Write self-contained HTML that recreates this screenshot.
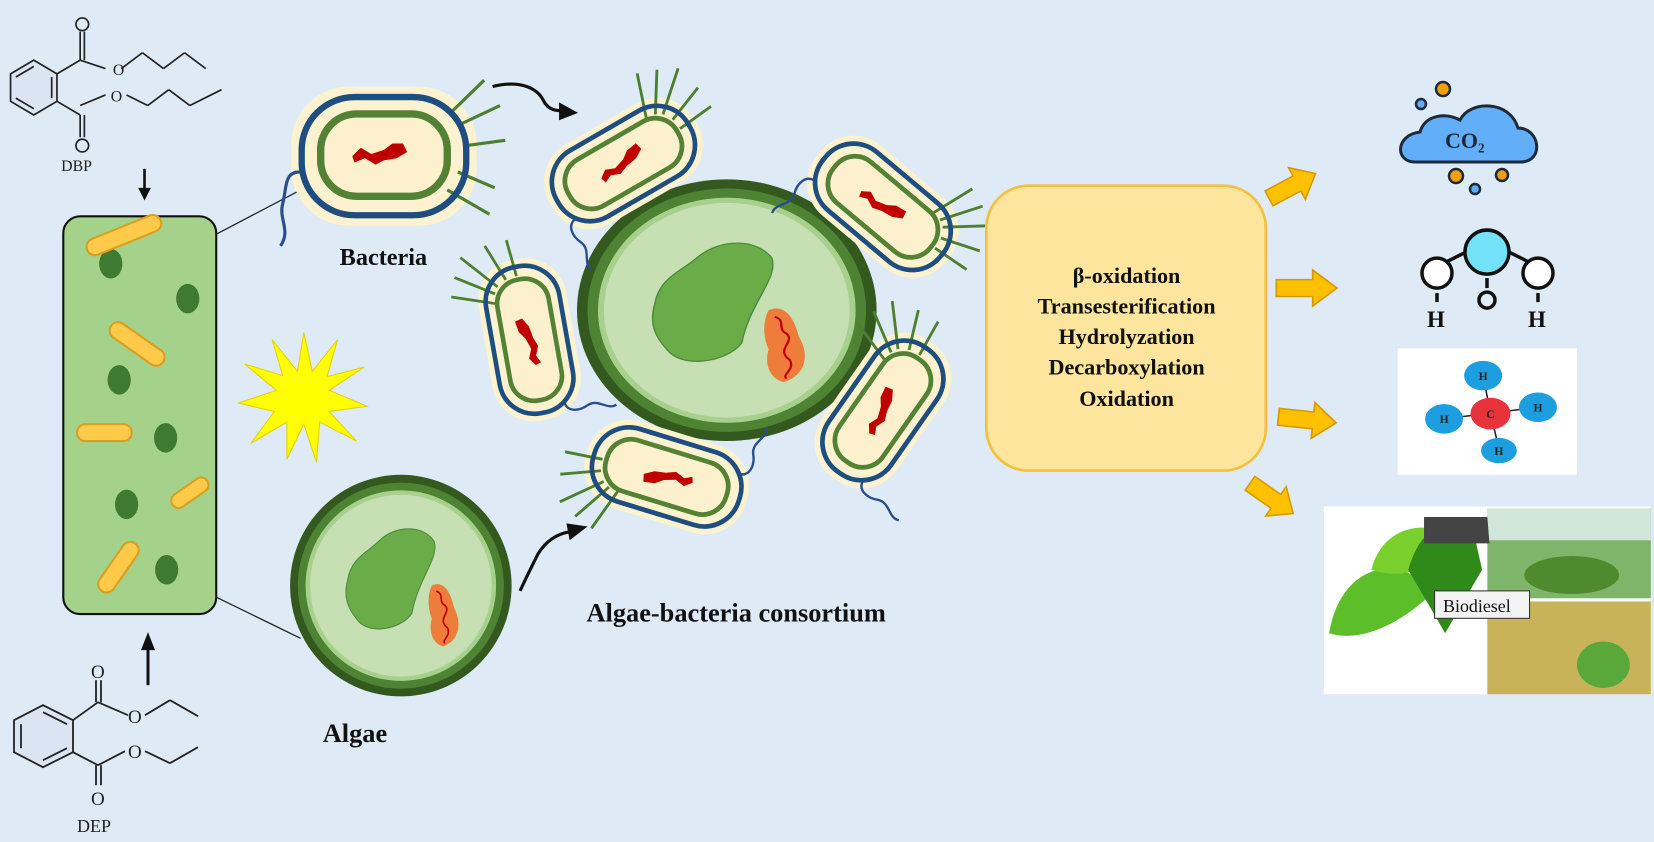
<!DOCTYPE html>
<html><head><meta charset="utf-8"><style>
html,body{margin:0;padding:0;background:#deeaf6;}
svg{display:block;}
text{font-family:"Liberation Serif",serif;}
</style></head><body>
<svg width="1654" height="842" viewBox="0 0 1568 798" preserveAspectRatio="none" xmlns="http://www.w3.org/2000/svg">
<defs>
<g id="bac">
 <rect x="-88" y="-66" width="176" height="132" rx="55" fill="#fdf2cf"/>
 <path d="M-80 15 C-95 15,-92 30,-96 45 C-100 60,-88 70,-98 85" stroke="#2a4d8f" stroke-width="3" fill="none"/>
 <g stroke="#4d7f30" stroke-width="3">
  <line x1="62" y1="-40" x2="95" y2="-72"/><line x1="72" y1="-30" x2="110" y2="-48"/>
  <line x1="78" y1="-10" x2="115" y2="-15"/><line x1="70" y1="15" x2="105" y2="30"/>
  <line x1="60" y1="32" x2="100" y2="55"/>
 </g>
 <rect x="-78" y="-56" width="156" height="112" rx="50" fill="none" stroke="#1e4e80" stroke-width="6"/>
 <rect x="-60" y="-40" width="120" height="78" rx="34" fill="#fdf0cd" stroke="#548235" stroke-width="7"/>
 <path d="M-30 0 L-22 -8 L-12 -2 L0 -6 L8 -12 L18 -12 L22 -4 L12 2 L0 4 L-8 8 L-18 2 L-28 6 Z" fill="#c00000"/>
</g>
<g id="bac2">
 <rect x="-88" y="-48" width="176" height="96" rx="45" fill="#fdf2cf"/>
 <path d="M-70 25 C-85 25,-85 40,-80 50 C-75 62,-90 70,-85 80" stroke="#2a4d8f" stroke-width="2.5" fill="none"/>
 <g stroke="#4d7f30" stroke-width="3">
  <line x1="45" y1="-30" x2="60" y2="-75"/><line x1="55" y1="-28" x2="80" y2="-68"/>
  <line x1="62" y1="-24" x2="100" y2="-58"/><line x1="68" y1="-14" x2="108" y2="-30"/><line x1="70" y1="-2" x2="110" y2="-6"/>
 </g>
 <rect x="-80" y="-40" width="160" height="80" rx="38" fill="none" stroke="#1e4e80" stroke-width="5"/>
 <rect x="-66" y="-28" width="132" height="56" rx="26" fill="#fdf0cd" stroke="#548235" stroke-width="5"/>
 <path d="M-28 2 L-20 -4 L-10 0 L2 -4 L10 -10 L22 -12 L24 -4 L14 2 L2 4 L-8 8 L-18 4 L-26 8 Z" fill="#c00000"/>
</g>
<g id="alg2">
 <circle r="100" fill="#34591f"/>
 <circle r="93" fill="#4e8333"/>
 <circle r="86" fill="#a8d08d"/>
 <circle r="82" fill="#c6e0b4"/>
 <path d="M-48 -5 C-45 -25,-30 -30,-20 -40 C-5 -55,20 -55,30 -40 C35 -25,15 -5,10 25 C0 40,-30 45,-40 30 C-48 20,-52 10,-48 -5Z" fill="#6aad48" stroke="#4e8a3a" stroke-width="1"/>
 <path d="M28 0 C38 -5,45 5,48 20 C56 35,52 50,38 55 C28 52,25 40,28 30 C24 20,24 8,28 0Z" fill="#ee7c3a"/>
 <path d="M32 5 C40 8,33 14,40 18 C46 24,32 30,42 38 C46 45,36 50,40 52" stroke="#c00000" stroke-width="1.5" fill="none"/>
</g>
<g id="arr"><path d="M0 -8 L30 -8 L30 -17 L50 0 L30 17 L30 8 L0 8Z" fill="#ffc000" stroke="#d49a00" stroke-width="1.5"/></g>
</defs>

<!-- DBP -->
<g stroke="#222" stroke-width="1.6" fill="none">
 <polygon points="10,70 32,57 54,70 54,96 32,109 10,96" fill="#dbe4f3"/>
 <line x1="15" y1="73" x2="32" y2="63"/><line x1="49" y1="73" x2="49" y2="93"/><line x1="15" y1="93" x2="32" y2="103"/>
 <line x1="54" y1="70" x2="76" y2="57"/><line x1="76" y1="57" x2="76" y2="30"/><line x1="80" y1="57" x2="80" y2="30"/>
 <line x1="76" y1="57" x2="100" y2="65"/><line x1="115" y1="65" x2="135" y2="50"/><line x1="135" y1="50" x2="155" y2="65"/><line x1="155" y1="65" x2="175" y2="50"/><line x1="175" y1="50" x2="195" y2="65"/>
 <line x1="54" y1="96" x2="76" y2="109"/><line x1="76" y1="109" x2="76" y2="130"/><line x1="80" y1="109" x2="80" y2="130"/>
 <line x1="76" y1="100" x2="100" y2="90"/><line x1="120" y1="90" x2="140" y2="100"/><line x1="140" y1="100" x2="160" y2="85"/><line x1="160" y1="85" x2="180" y2="100"/><line x1="180" y1="100" x2="210" y2="85"/>
 <circle cx="78" cy="23" r="6"/><circle cx="78" cy="138" r="6"/>
</g>
<text x="107" y="71" font-size="15" fill="#222">O</text>
<text x="105" y="96" font-size="15" fill="#222">O</text>
<text x="58" y="162" font-size="15" fill="#222">DBP</text>
<line x1="137" y1="160" x2="137" y2="180" stroke="#111" stroke-width="2.5"/><polygon points="131,178 143,178 137,190" fill="#111"/>

<!-- DEP (true coords) -->
<g transform="scale(0.948)">
<g stroke="#222" stroke-width="1.8" fill="none">
 <polygon points="14,720 43,705 73,720 73,752 43,767 14,752" fill="#dbe4f3"/>
 <line x1="21" y1="724" x2="21" y2="748"/><line x1="43" y1="712" x2="67" y2="724"/><line x1="43" y1="760" x2="67" y2="748"/>
 <line x1="73" y1="720" x2="98" y2="702"/><line x1="96" y1="702" x2="96" y2="680"/><line x1="101" y1="702" x2="101" y2="680"/>
 <line x1="98" y1="702" x2="128" y2="715"/><line x1="145" y1="715" x2="170" y2="700"/><line x1="170" y1="700" x2="198" y2="716"/>
 <line x1="73" y1="752" x2="98" y2="765"/><line x1="96" y1="765" x2="96" y2="785"/><line x1="101" y1="765" x2="101" y2="785"/>
 <line x1="98" y1="765" x2="125" y2="751"/><line x1="145" y1="751" x2="170" y2="763"/><line x1="170" y1="763" x2="198" y2="747"/>
</g>
<g font-size="19" fill="#222"><text x="91" y="678">O</text><text x="128" y="723">O</text><text x="128" y="758">O</text><text x="91" y="805">O</text></g>
<text x="77" y="832" font-size="18" fill="#222">DEP</text>
<line x1="148" y1="685" x2="148" y2="648" stroke="#111" stroke-width="3"/><polygon points="141,650 155,650 148,632" fill="#111"/>
</g>

<!-- green tank -->
<rect x="60" y="205" width="145" height="377" rx="16" fill="#a5d28b" stroke="#111" stroke-width="2"/>
<g fill="#3f7a33">
 <ellipse cx="105" cy="250" rx="11" ry="14"/><ellipse cx="178" cy="283" rx="11" ry="14"/><ellipse cx="113" cy="360" rx="11" ry="14"/>
 <ellipse cx="157" cy="415" rx="11" ry="14"/><ellipse cx="120" cy="478" rx="11" ry="14"/><ellipse cx="158" cy="540" rx="11" ry="14"/>
</g>
<g fill="#ffc94a" stroke="#d7a020" stroke-width="2">
 <rect x="80" y="215" width="75" height="16" rx="8" transform="rotate(-22 117 223)"/>
 <rect x="100" y="318" width="60" height="16" rx="8" transform="rotate(35 130 326)"/>
 <rect x="73" y="402" width="52" height="16" rx="8"/>
 <rect x="160" y="460" width="40" height="14" rx="7" transform="rotate(-35 180 467)"/>
 <rect x="85" y="530" width="55" height="16" rx="8" transform="rotate(-55 112 538)"/>
</g>
<line x1="205" y1="222" x2="285" y2="180" stroke="#222" stroke-width="1.2"/>
<line x1="205" y1="566" x2="285" y2="605" stroke="#222" stroke-width="1.2"/>
<!-- sun -->
<polygon fill="#ffff00" stroke="#e6d000" stroke-width="1" points="288,315 296,352 320,322 310,357 345,348 312,370 348,385 312,390 338,418 303,400 300,438 288,402 272,435 272,400 238,420 260,390 226,382 262,370 232,345 268,356 258,322 282,352"/>

<!-- top bacterium -->
<use href="#bac" transform="translate(364,148)"/>
<text x="322" y="251" font-size="23" font-weight="bold" fill="#111">Bacteria</text>
<!-- algae -->
<use href="#alg2" transform="translate(380,555) scale(1.05)"/>
<text x="306" y="703" font-size="25" font-weight="bold" fill="#111">Algae</text>
<!-- curved arrows -->
<path d="M467 82 C495 75,510 85,515 95 C520 105,528 105,535 105" stroke="#111" stroke-width="3" fill="none"/><polygon points="530,97 548,107 530,114" fill="#111"/>
<path d="M493 560 C500 545,505 535,510 525 C518 512,528 506,540 504" stroke="#111" stroke-width="3" fill="none"/><polygon points="537,496 557,499 540,512" fill="#111"/>

<!-- consortium -->
<use href="#alg2" transform="translate(689,294) scale(1.42,1.24)"/>
<use href="#bac2" transform="translate(591,155) rotate(-30) scale(0.9)"/>
<use href="#bac2" transform="translate(837,196) rotate(40) scale(0.9)"/>
<use href="#bac2" transform="translate(502,322) rotate(-100) scale(0.88)"/>
<use href="#bac2" transform="translate(837,389) rotate(-55) scale(0.9)"/>
<use href="#bac2" transform="translate(632,452) rotate(-163) scale(0.9)"/>
<text x="556" y="589" font-size="25" font-weight="bold" fill="#111">Algae-bacteria consortium</text>

<!-- process box -->
<rect x="935" y="176" width="265" height="270" rx="40" fill="#fee59d" stroke="#f5c040" stroke-width="2.5"/>
<g font-size="21" font-weight="bold" fill="#111" text-anchor="middle">
 <text x="1068" y="268">β-oxidation</text>
 <text x="1068" y="297">Transesterification</text>
 <text x="1068" y="326">Hydrolyzation</text>
 <text x="1068" y="355">Decarboxylation</text>
 <text x="1068" y="385">Oxidation</text>
</g>
<use href="#arr" transform="translate(1203,188) rotate(-28)"/>
<use href="#arr" transform="translate(1210,273) scale(1.15,1)"/>
<use href="#arr" transform="translate(1212,395) rotate(6) scale(1.1,1)"/>
<use href="#arr" transform="translate(1185,458) rotate(35)"/>

<g transform="scale(0.948)">
<path d="M1415 162 C1395 162,1395 135,1420 132 C1425 115,1445 112,1460 120 C1470 100,1510 100,1518 128 C1540 128,1545 162,1520 162 Z" fill="#63aef9" stroke="#1d2a3a" stroke-width="3"/>
<text x="1445" y="148" font-family="Liberation Sans,sans-serif" font-size="22" font-weight="bold" fill="#1d2a3a">CO₂</text>
<g stroke="#1d2a3a" stroke-width="2.5"><circle cx="1443" cy="89" r="7" fill="#f59e0b"/><circle cx="1421" cy="104" r="5" fill="#63aef9"/>
<circle cx="1456" cy="176" r="7" fill="#f59e0b"/><circle cx="1502" cy="175" r="6" fill="#f59e0b"/><circle cx="1475" cy="189" r="5" fill="#63aef9"/></g>
<g stroke="#111" stroke-width="3.5">
 <line x1="1440" y1="265" x2="1470" y2="250"/><line x1="1505" y1="250" x2="1535" y2="265"/>
 <circle cx="1487" cy="252" r="22" fill="#73e2f8"/>
 <circle cx="1437" cy="273" r="15" fill="#fff"/><circle cx="1538" cy="273" r="15" fill="#fff"/>
 <circle cx="1487" cy="300" r="8" fill="none"/>
 <line x1="1437" y1="293" x2="1437" y2="302"/><line x1="1487" y1="278" x2="1487" y2="288"/><line x1="1538" y1="293" x2="1538" y2="302"/>
</g>
<text x="1427" y="327" font-family="Liberation Sans,sans-serif" font-size="23" font-weight="bold" fill="#111">H</text>
<text x="1528" y="327" font-family="Liberation Sans,sans-serif" font-size="23" font-weight="bold" fill="#111">H</text>
</g>
<!-- methane -->
<rect x="1325" y="330" width="170" height="120" fill="#fff"/>
<g stroke="#222" stroke-width="1.5"><line x1="1406" y1="356" x2="1413" y2="392"/><line x1="1369" y1="397" x2="1458" y2="386"/><line x1="1413" y1="392" x2="1421" y2="425"/></g>
<g font-family="Liberation Sans,sans-serif" font-size="11" font-weight="bold" fill="#222" text-anchor="middle">
 <ellipse cx="1406" cy="356" rx="18" ry="14" fill="#1c9ee0"/><text x="1406" y="360">H</text>
 <ellipse cx="1369" cy="397" rx="18" ry="14" fill="#1c9ee0"/><text x="1369" y="401">H</text>
 <ellipse cx="1458" cy="386" rx="18" ry="14" fill="#1c9ee0"/><text x="1458" y="390">H</text>
 <ellipse cx="1421" cy="427" rx="17" ry="12" fill="#1c9ee0"/><text x="1421" y="431">H</text>
 <ellipse cx="1413" cy="392" rx="19" ry="15" fill="#e8323c"/><text x="1413" y="396">C</text>
</g>
<!-- biofuel collage -->
<rect x="1255" y="480" width="310" height="178" fill="#fff"/>
<rect x="1410" y="482" width="155" height="85" fill="#7fb56a"/>
<rect x="1410" y="482" width="155" height="30" fill="#cfe6d8"/>
<ellipse cx="1490" cy="545" rx="45" ry="18" fill="#4f8a2e"/>
<rect x="1410" y="570" width="155" height="88" fill="#c9b35a"/>
<ellipse cx="1520" cy="630" rx="25" ry="22" fill="#5aa83a"/>
<path d="M1260 600 C1270 540,1320 520,1360 560 C1330 590,1290 610,1260 600Z" fill="#5cbf2a"/>
<path d="M1300 540 C1310 500,1350 490,1380 510 C1360 540,1330 550,1300 540Z" fill="#7ad12e"/>
<path d="M1335 540 C1345 505,1365 490,1395 495 L1405 540 L1370 600 Z" fill="#2f8a1a"/>
<path d="M1350 490 L1410 490 L1412 515 L1350 515 Z" fill="#444"/>
<rect x="1360" y="560" width="90" height="26" fill="#f3f3f3" stroke="#333"/>
<text x="1368" y="580" font-size="17" fill="#111">Biodiesel</text>
</svg>
</body></html>
